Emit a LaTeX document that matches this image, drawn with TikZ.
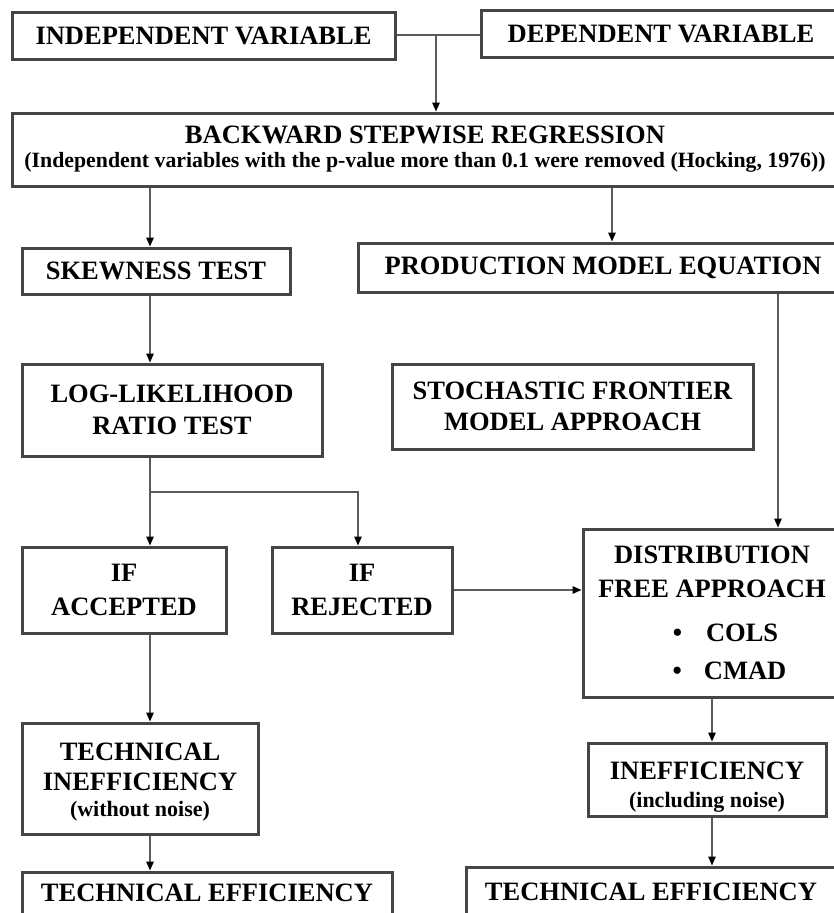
\documentclass[tikz,border=0pt]{standalone}
\usepackage{fontspec}
\setmainfont{Liberation Serif}
\usetikzlibrary{arrows.meta,calc}
\definecolor{boxgray}{HTML}{454545}
\definecolor{linegray}{HTML}{5A5A5A}
\newcommand\bigf{\fontsize{26.5}{34}\selectfont\bfseries}
\newcommand\subf{\fontsize{22}{26}\selectfont\bfseries}
\newcommand\tinyf{\fontsize{21.8}{24}\selectfont\bfseries}
\tikzset{
  box/.style={draw=boxgray, line width=3pt, rectangle, inner sep=0pt, align=center, font=\bigf, fill=white},
  arr/.style={draw=linegray, line width=1.4pt, -{Triangle[length=9pt,width=7.5pt,color=black]}},
  ln/.style={draw=linegray, line width=1.4pt},
}
\begin{document}
\begin{tikzpicture}[x=1pt,y=-1pt]
\useasboundingbox (0,0) rectangle (834,913);
\clip (0,0) rectangle (834,913);
\fill[white] (0,0) rectangle (834,913);
% columns
\coordinate (cA) at (150,0);
\coordinate (cB) at (436,35);
\coordinate (cC) at (612,0);
\coordinate (cD) at (358,0);
\coordinate (cE) at (778,0);
\coordinate (cF) at (712,0);
\coordinate (cG) at (0,492);
% boxes
\node[box, minimum width=383, minimum height=47] (ind) at (203.5,35.5) {INDEPENDENT VARIABLE};
\node[box, minimum width=360, minimum height=47] (dep) at (661,33.5) {DEPENDENT VARIABLE};
\node[box, minimum width=826, minimum height=73] (back) at (425,149.5)
  {BACKWARD STEPWISE REGRESSION\\[-10pt]{\tinyf (Independent variables with the p-value more than 0.1 were removed (Hocking, 1976))}};
\node[box, minimum width=268, minimum height=46] (skew) at (156,271) {SKEWNESS TEST};
\node[box, minimum width=490, minimum height=49] (prod) at (603,267.5) {PRODUCTION MODEL EQUATION};
\node[box, minimum width=300, minimum height=92] (log) at (172,410) {LOG-LIKELIHOOD\\[-2pt]RATIO TEST};
\node[box, minimum width=361, minimum height=85] (stoch) at (572.5,406.5) {\fontsize{26.5}{31}\selectfont STOCHASTIC FRONTIER\\[-3pt]MODEL APPROACH};
\node[box, minimum width=204, minimum height=86] (acc) at (124,590) {IF\\ACCEPTED};
\node[box, minimum width=180, minimum height=86] (rej) at (362,590) {IF\\REJECTED};
\node[box, minimum width=258, minimum height=168] (dist) at (712,613)
  {\fontsize{26.5}{30}\selectfont DISTRIBUTION\\FREE APPROACH\\[10pt]\hspace*{27pt}\textbullet\hspace{24pt}COLS\\[4pt]\hspace*{35pt}\textbullet\hspace{22pt}CMAD};
\node[box, minimum width=236, minimum height=111] (tine) at (140,778.5)
  {\fontsize{26.5}{30}\selectfont\rule{0pt}{25pt}TECHNICAL\\[-4pt]INEFFICIENCY\\[-8pt]{\subf (without noise)}};
\node[box, minimum width=238, minimum height=73] (ineff) at (707,779.5)
  {\rule{0pt}{32pt}INEFFICIENCY\\[-6pt]{\subf (including noise)}};
\node[box, minimum width=370, minimum height=42] (tel) at (207,893) {TECHNICAL EFFICIENCY};
\node[box, minimum width=370, minimum height=50] (ter) at (651,892) {TECHNICAL EFFICIENCY};
% connectors
\draw[ln] (ind.east |- cB) -- (dep.west |- cB);
\draw[arr] (cB) -- (cB |- back.north);
\draw[arr] (back.south -| cA) -- (skew.north -| cA);
\draw[arr] (back.south -| cC) -- (prod.north -| cC);
\draw[arr] (skew.south -| cA) -- (log.north -| cA);
\draw[ln] (log.south -| cA) -- (cG -| cA);
\draw[arr] (cG -| cA) -- (acc.north -| cA);
\draw[arr] (cG -| cA) -- (cG -| cD) -- (rej.north -| cD);
\draw[arr] (prod.south -| cE) -- (dist.north -| cE);
\draw[arr] (rej.east) -- (dist.west |- rej.east);
\draw[arr] (dist.south -| cF) -- (ineff.north -| cF);
\draw[arr] (ineff.south -| cF) -- (ter.north -| cF);
\draw[arr] (acc.south -| cA) -- (tine.north -| cA);
\draw[arr] (tine.south -| cA) -- (tel.north -| cA);
\end{tikzpicture}
\end{document}
